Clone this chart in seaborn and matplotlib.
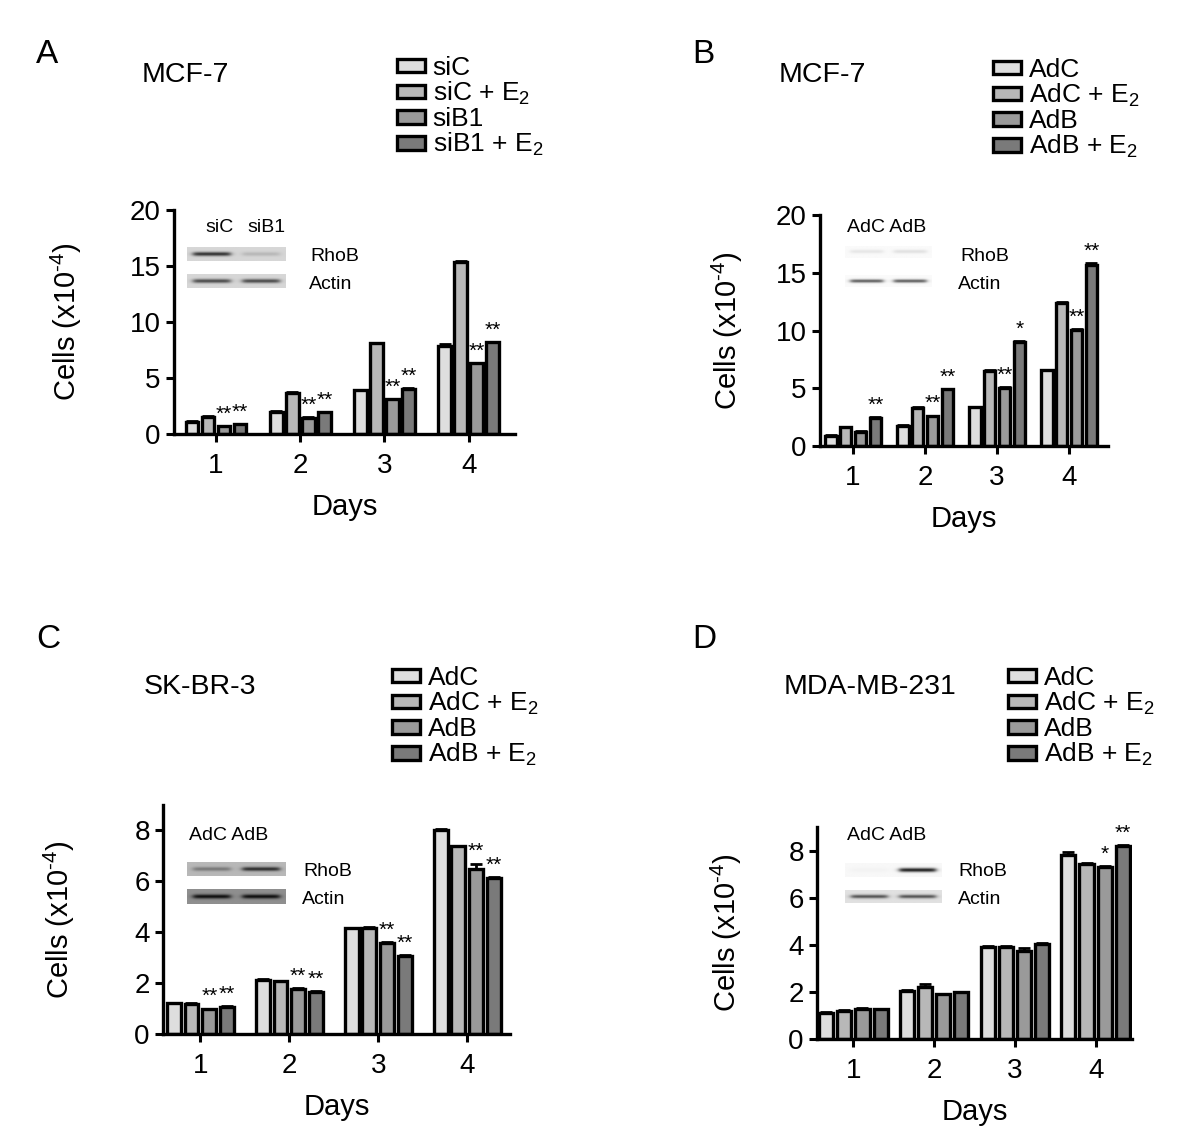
import numpy as np
import pandas as pd
import seaborn as sns
import matplotlib
matplotlib.use("Agg")
import matplotlib.pyplot as plt

# ---- data ----
days = ["1", "2", "3", "4"]

a_groups = ["siC", "siC + E$_2$", "siB1", "siB1 + E$_2$"]
a_sic = [1.1, 2.0, 3.9, 7.9]
a_sic_e2 = [1.55, 3.7, 8.1, 15.4]
a_sib1 = [0.7, 1.45, 3.1, 6.3]
a_sib1_e2 = [0.9, 1.95, 4.05, 8.2]
a_err = [[0.05, 0.05, 0.05, 0.12], [0.03, 0.05, 0.05, 0.05],
         [0.03, 0.04, 0.05, 0.05], [0.03, 0.04, 0.05, 0.05]]
a_stars = [["", "", "", ""], ["", "", "", ""],
           ["**", "**", "**", "**"], ["**", "**", "**", "**"]]

b_groups = ["AdC", "AdC + E$_2$", "AdB", "AdB + E$_2$"]
b_adc = [0.9, 1.75, 3.35, 6.55]
b_adc_e2 = [1.65, 3.3, 6.5, 12.4]
b_adb = [1.25, 2.6, 5.05, 10.05]
b_adb_e2 = [2.45, 4.9, 9.0, 15.7]
b_err = [[0.02, 0.03, 0.03, 0.04], [0.03, 0.04, 0.05, 0.05],
         [0.03, 0.04, 0.05, 0.1], [0.04, 0.05, 0.1, 0.15]]
b_stars = [["", "", "", ""], ["", "", "", ""],
           ["", "**", "**", "**"], ["**", "**", "*", "**"]]

c_groups = ["AdC", "AdC + E$_2$", "AdB", "AdB + E$_2$"]
c_adc = [1.2, 2.12, 4.15, 8.0]
c_adc_e2 = [1.18, 2.08, 4.15, 7.38]
c_adb = [0.97, 1.77, 3.58, 6.5]
c_adb_e2 = [1.07, 1.66, 3.08, 6.15]
c_err = [[0.03, 0.06, 0.03, 0.05], [0.02, 0.02, 0.06, 0.02],
         [0.03, 0.04, 0.05, 0.2], [0.03, 0.03, 0.03, 0.03]]
c_stars = [["", "", "", ""], ["", "", "", ""],
           ["**", "**", "**", "**"], ["**", "**", "**", "**"]]

d_groups = ["AdC", "AdC + E$_2$", "AdB", "AdB + E$_2$"]
d_adc = [1.12, 2.05, 3.9, 7.8]
d_adc_e2 = [1.18, 2.2, 3.9, 7.42]
d_adb = [1.28, 1.9, 3.75, 7.3]
d_adb_e2 = [1.27, 1.98, 4.05, 8.2]
d_err = [[0.02, 0.03, 0.03, 0.15], [0.03, 0.15, 0.03, 0.05],
         [0.03, 0.03, 0.13, 0.04], [0.02, 0.02, 0.02, 0.03]]
d_stars = [["", "", "", ""], ["", "", "", ""],
           ["", "", "", "*"], ["", "", "", "**"]]

# western blot lane intensities (darkness 0..1) and strip background grey
a_rhob, a_actin = [0.65, 0.12], [0.55, 0.55]
b_rhob, b_actin = [0.08, 0.1], [0.6, 0.6]
c_rhob, c_actin = [0.25, 0.55], [0.5, 0.5]
d_rhob, d_actin = [0.02, 0.85], [0.55, 0.55]

colors = ["#dedede", "#b8b8b8", "#9a9a9a", "#7a7a7a"]

W, H = 1200, 1146

sns.set_style("ticks")
plt.rcParams["font.family"] = ["Liberation Sans", "DejaVu Sans"]
plt.rcParams["mathtext.fontset"] = "custom"
plt.rcParams["mathtext.rm"] = "Liberation Sans"
plt.rcParams["mathtext.it"] = "Liberation Sans"
plt.rcParams["mathtext.default"] = "regular"
for key in ["text.color", "axes.labelcolor", "xtick.color", "ytick.color", "axes.edgecolor"]:
    plt.rcParams[key] = "black"

fig = plt.figure(figsize=(W / 100, H / 100), dpi=100)


def px(x, y):
    return (x / W, 1 - y / H)


def rect(l, r, b, t):
    return [l / W, 1 - b / H, (r - l) / W, (b - t) / H]


def blot(l, r, t, b, bg, lanes):
    ax = fig.add_axes(rect(l, r, b, t))
    rows = np.linspace(-1, 1, 20)[:, None]
    cols = np.linspace(0, 1, 200)[None, :]
    prof = np.exp(-(rows / 0.3) ** 2)
    img = np.full((20, 200), bg)
    for k, dark in enumerate(lanes):
        c0, c1 = 0.06 + k * 0.5, 0.44 + k * 0.5
        mask = 1 / (1 + np.exp(-(cols - c0) * 60)) / (1 + np.exp((cols - c1) * 60))
        img = img - dark * prof * mask
    ax.imshow(img, cmap="gray", vmin=0, vmax=1, aspect="auto", interpolation="bilinear")
    ax.axis("off")


def panel(box, groups, series, errs, stars, ylim, yticks, width, xlim, leg_xy, ypad):
    ax = fig.add_axes(box)
    df = pd.DataFrame({
        "day": days * 4,
        "cells": sum(series, []),
        "group": [g for g in groups for _ in days],
    })
    sns.barplot(data=df, x="day", y="cells", hue="group", hue_order=groups,
                palette=colors, edgecolor="black", linewidth=2.4, errorbar=None,
                width=width, gap=0.22, ax=ax)
    bar_sets = list(ax.containers)
    for i, cont in enumerate(bar_sets):
        for j, bar in enumerate(cont):
            xc = bar.get_x() + bar.get_width() / 2
            top = series[i][j]
            ax.errorbar(xc, top, yerr=[[0], [errs[i][j]]], color="black",
                        capsize=4, elinewidth=2, capthick=2)
            if stars[i][j]:
                ax.text(xc, top + errs[i][j] + ylim * 0.01, stars[i][j],
                        ha="center", va="bottom", fontsize=15)
    handles, labels = ax.get_legend_handles_labels()
    if ax.get_legend() is not None:
        ax.get_legend().remove()
    fig.legend(handles, labels, loc="upper left", bbox_to_anchor=px(*leg_xy),
               frameon=False, fontsize=19, handlelength=1.05, handleheight=0.42,
               handletextpad=0.3, labelspacing=0.0, borderpad=0, borderaxespad=0)
    ax.set_ylim(0, ylim)
    ax.set_yticks(yticks)
    ax.set_xlim(*xlim)
    ax.set_xlabel("Days", fontsize=21, labelpad=10)
    ax.set_ylabel(r"Cells (x10$^{\text{-}4}$)", fontsize=21, labelpad=ypad)
    ax.tick_params(axis="both", labelsize=20, width=2.2, length=6, direction="out")
    ax.tick_params(axis="x", pad=8)
    for s in ["left", "bottom"]:
        ax.spines[s].set_linewidth(2.4)
    sns.despine(ax=ax)
    return ax


panel(rect(174, 515, 434, 210), a_groups, [a_sic, a_sic_e2, a_sib1, a_sib1_e2],
      a_err, a_stars, 20, [0, 5, 10, 15, 20], 0.76, (-0.5, 3.55), (397, 56), 33)
panel(rect(820, 1108, 446, 215), b_groups, [b_adc, b_adc_e2, b_adb, b_adb_e2],
      b_err, b_stars, 20, [0, 5, 10, 15, 20], 0.82, (-0.46, 3.54), (993, 58), 22)
panel(rect(163, 510, 1034, 805), c_groups, [c_adc, c_adc_e2, c_adb, c_adb_e2],
      c_err, c_stars, 9, [0, 2, 4, 6, 8], 0.8, (-0.42, 3.48), (392, 666), 41)
panel(rect(817, 1132, 1039, 827), d_groups, [d_adc, d_adc_e2, d_adb, d_adb_e2],
      d_err, d_stars, 9, [0, 2, 4, 6, 8], 0.9, (-0.45, 3.45), (1008, 666), 32)

# panel letters and cell-line titles
for letter, xy in [("A", (36, 63)), ("B", (692, 63)), ("C", (36, 648)), ("D", (692, 648))]:
    fig.text(*px(*xy), letter, fontsize=24, ha="left", va="baseline")
for title, xy in [("MCF-7", (142, 82)), ("MCF-7", (779, 82)),
                  ("SK-BR-3", (144, 694)), ("MDA-MB-231", (784, 694))]:
    fig.text(*px(*xy), title, fontsize=20.5, ha="left", va="baseline")

# western blot insets
blot(187, 286, 247, 261, 0.84, a_rhob)
blot(187, 286, 274, 288, 0.84, a_actin)
fig.text(*px(205, 232), "siC", fontsize=14, ha="left", va="baseline")
fig.text(*px(247, 232), "siB1", fontsize=14, ha="left", va="baseline")
fig.text(*px(310, 261), "RhoB", fontsize=14, ha="left", va="baseline")
fig.text(*px(309, 289), "Actin", fontsize=14, ha="left", va="baseline")

blot(845, 932, 246, 258, 0.98, b_rhob)
blot(845, 932, 275, 287, 0.98, b_actin)
fig.text(*px(847, 232), "AdC AdB", fontsize=14, ha="left", va="baseline")
fig.text(*px(960, 261), "RhoB", fontsize=14, ha="left", va="baseline")
fig.text(*px(958, 289), "Actin", fontsize=14, ha="left", va="baseline")

blot(187, 286, 862, 876, 0.72, c_rhob)
blot(187, 286, 889, 904, 0.56, c_actin)
fig.text(*px(189, 840), "AdC AdB", fontsize=14, ha="left", va="baseline")
fig.text(*px(303, 876), "RhoB", fontsize=14, ha="left", va="baseline")
fig.text(*px(302, 904), "Actin", fontsize=14, ha="left", va="baseline")

blot(845, 942, 863, 877, 0.97, d_rhob)
blot(845, 942, 890, 903, 0.88, d_actin)
fig.text(*px(847, 840), "AdC AdB", fontsize=14, ha="left", va="baseline")
fig.text(*px(958, 876), "RhoB", fontsize=14, ha="left", va="baseline")
fig.text(*px(958, 904), "Actin", fontsize=14, ha="left", va="baseline")

fig.savefig("out.png", dpi=100)
